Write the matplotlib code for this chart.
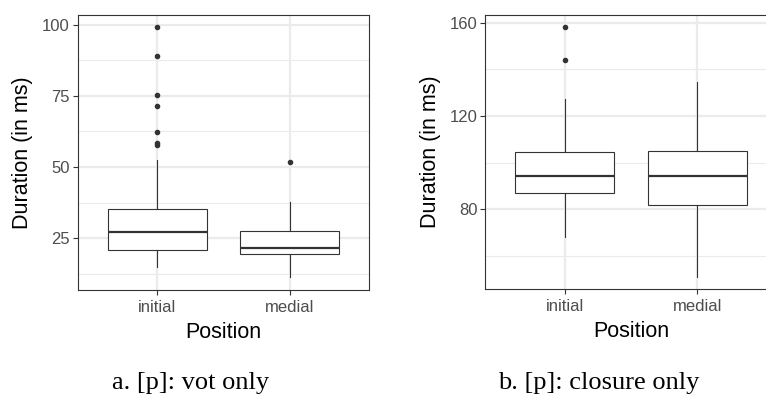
import matplotlib
matplotlib.use('Agg')
import matplotlib.pyplot as plt
import numpy as np

# box statistics (ms)
positions = ["initial", "medial"]

vot_q1 = [20.9, 19.4]
vot_med = [27.1, 21.7]
vot_q3 = [35.2, 27.6]
vot_whislo = [15.0, 11.2]
vot_whishi = [52.4, 37.8]
vot_fliers = [[99.0, 89.1, 75.2, 71.3, 62.4, 58.5, 57.8], [51.7]]

clo_q1 = [87.1, 81.9]
clo_med = [94.5, 94.4]
clo_q3 = [104.7, 105.2]
clo_whislo = [68.3, 51.1]
clo_whishi = [127.4, 134.7]
clo_fliers = [[158.1, 144.0], []]

vot_major = [25, 50, 75, 100]
vot_minor = [12.5, 37.5, 62.5, 87.5]
clo_major = [80, 120, 160]
clo_minor = [60, 100, 140]

plt.rcParams['font.family'] = ['Liberation Sans', 'DejaVu Sans']

DARK = '#333333'
GRID = '#ebebeb'


def make_stats(q1, med, q3, lo, hi, fl):
    return [dict(q1=q1[i], med=med[i], q3=q3[i], whislo=lo[i], whishi=hi[i],
                 fliers=fl[i], label=positions[i]) for i in range(len(positions))]


def draw_panel(ax, stats, major, minor):
    ax.bxp(stats, positions=[1, 2], widths=0.75, showcaps=False, patch_artist=True,
           boxprops=dict(facecolor='white', edgecolor=DARK, linewidth=0.8),
           medianprops=dict(color=DARK, linewidth=1.6),
           whiskerprops=dict(color=DARK, linewidth=0.8),
           flierprops=dict(marker='o', markersize=3.0, markerfacecolor=DARK,
                           markeredgecolor=DARK, linestyle='none'),
           zorder=3)
    allv = [s['whislo'] for s in stats] + [s['whishi'] for s in stats]
    for s in stats:
        allv += list(s['fliers'])
    lo, hi = min(allv), max(allv)
    pad = (hi - lo) * 0.05
    ax.set_ylim(lo - pad, hi + pad)
    ax.set_xlim(0.4, 2.6)
    ax.set_yticks(major)
    ax.set_yticks(minor, minor=True)
    ax.set_xticks([1, 2])
    ax.set_xticklabels(positions)
    ax.grid(True, which='major', color=GRID, linewidth=1.6, zorder=0)
    ax.grid(True, which='minor', axis='y', color=GRID, linewidth=0.8, zorder=0)
    ax.set_axisbelow(True)
    for sp in ax.spines.values():
        sp.set_color(DARK)
        sp.set_linewidth(0.8)
    ax.tick_params(which='major', length=3.3, width=0.8, color=DARK,
                   labelcolor='#4d4d4d', labelsize=12, pad=2.5)
    ax.tick_params(axis='x', which='major', pad=4)
    ax.tick_params(which='minor', length=0)
    ax.set_ylabel("Duration (in ms)", fontsize=15.5, va='center')
    ax.yaxis.set_label_coords(-0.189, 0.5)
    ax.set_xlabel("Position", fontsize=15.5, va='center')
    ax.xaxis.set_label_coords(0.5, -0.155)


fig = plt.figure(figsize=(7.66, 3.94), dpi=100)
ax1 = fig.add_axes([0.1018, 0.264, 0.3799, 0.698])
ax2 = fig.add_axes([0.6338, 0.2657, 0.38, 0.697])

draw_panel(ax1, make_stats(vot_q1, vot_med, vot_q3, vot_whislo, vot_whishi, vot_fliers),
           vot_major, vot_minor)
draw_panel(ax2, make_stats(clo_q1, clo_med, clo_q3, clo_whislo, clo_whishi, clo_fliers),
           clo_major, clo_minor)

fig.text(191 / 766, 0.0115, "a. [p]: vot only", ha='center', va='baseline',
         fontsize=19, family=['Liberation Serif', 'DejaVu Serif'])
fig.text(599 / 766, 0.0115, "b. [p]: closure only", ha='center', va='baseline',
         fontsize=19, family=['Liberation Serif', 'DejaVu Serif'])

fig.savefig('out.png', dpi=100)
